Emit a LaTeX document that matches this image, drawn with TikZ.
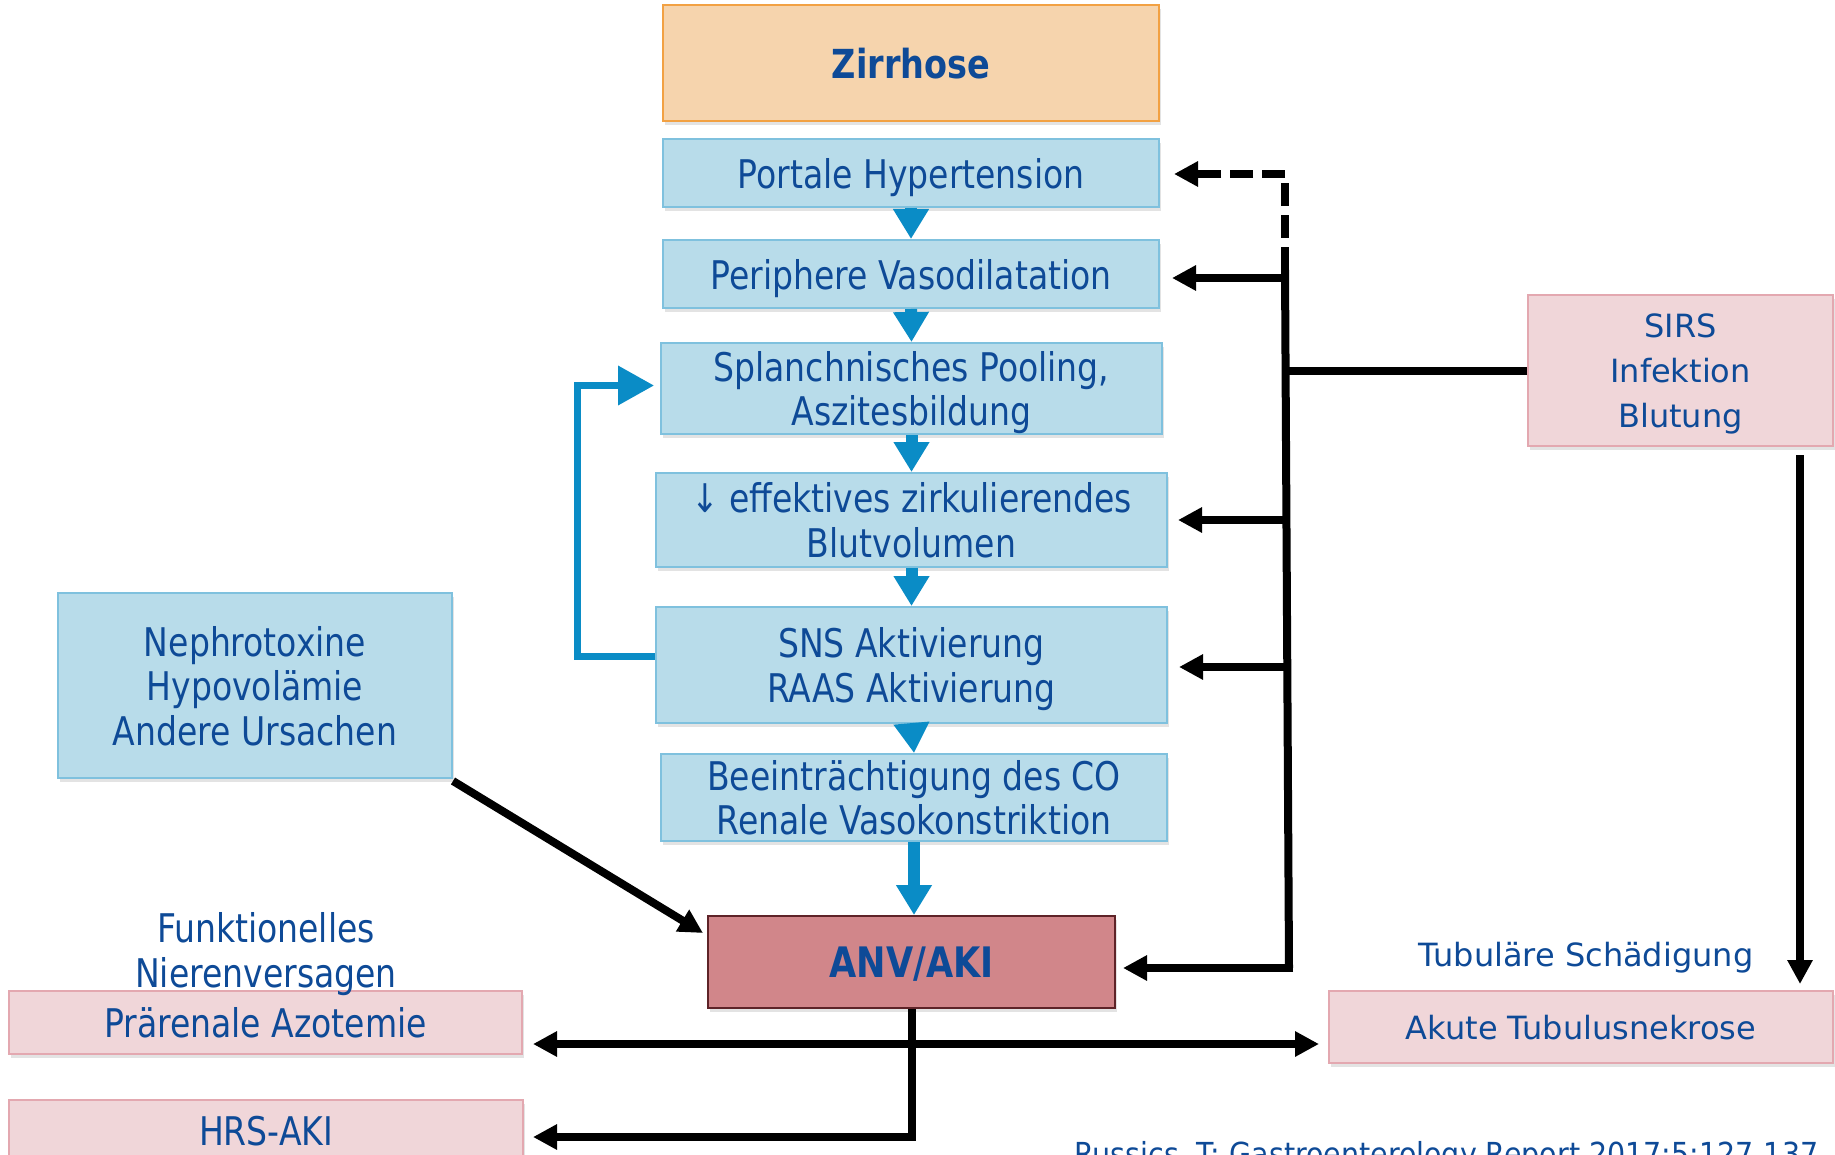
\documentclass[tikz,border=0pt]{standalone}
\usepackage{fontspec}
\setmainfont[FakeStretch=0.93]{DejaVu Sans Condensed}
\newfontfamily\reffont{DejaVu Sans Condensed}
\newfontfamily\verdfont{DejaVu Sans}
\usetikzlibrary{arrows.meta,shadows}

\definecolor{txtblue}{HTML}{0E4A97}
\definecolor{boxfill}{HTML}{B8DCEA}
\definecolor{boxline}{HTML}{7FC1DE}
\definecolor{pinkfill}{HTML}{F0D6D9}
\definecolor{pinkline}{HTML}{E3A8B0}
\definecolor{anvfill}{HTML}{D1868A}
\definecolor{anvline}{HTML}{5E2328}
\definecolor{zirfill}{HTML}{F6D4AD}
\definecolor{zirline}{HTML}{F2A143}
\definecolor{flowblue}{HTML}{0A8CC6}

\begin{document}
\begin{tikzpicture}[x=1pt,y=-1pt,
  boxshadow/.style={drop shadow={shadow xshift=2pt,shadow yshift=-4pt,opacity=0.22}},
  basebox/.style={rectangle,line width=2pt,inner sep=0pt,align=center,text=txtblue,
    font=\fontsize{39.5}{44.5}\selectfont,text depth=0pt,boxshadow},
  bluebox/.style={basebox,fill=boxfill,draw=boxline},
  pinkbox/.style={basebox,fill=pinkfill,draw=pinkline},
  verdbox/.style={pinkbox,font=\verdfont\fontsize{32}{45}\selectfont},
  labeltext/.style={text=txtblue,align=center,inner sep=0pt},
  flowarrow/.style={draw=flowblue,line width=12pt,
    -{Triangle[length=30pt,width=34pt]}},
  loopline/.style={draw=flowblue,line width=7pt,
    -{Triangle[length=36pt,width=38pt]}},
  blk/.style={draw=black,line width=8pt},
  blkarrow/.style={blk,-{Triangle[length=24pt,width=24pt]}},
  blkboth/.style={blk,{Triangle[length=24pt,width=24pt]}-{Triangle[length=24pt,width=24pt]}}
]
\useasboundingbox (0,0) rectangle (1835,1155);
\fill[white] (0,0) rectangle (1835,1155);

% main cascade
\node[basebox,fill=zirfill,draw=zirline,minimum width=496pt,minimum height=116pt,
  font=\bfseries\fontsize{40}{44}\selectfont] (zir) at (911,63) {Zirrhose};
\node[bluebox,minimum width=496pt,minimum height=68pt] (ph) at (911,173) {Portale Hypertension};
\node[bluebox,minimum width=496pt,minimum height=68pt] (pv) at (911,274) {Periphere Vasodilatation};
\node[bluebox,minimum width=501pt,minimum height=91pt] (sp) at (911.5,388.5) {Splanchnisches Pooling,\\Aszitesbildung};
\node[bluebox,minimum width=511pt,minimum height=94pt] (ev) at (911.5,520) {↓ effektives zirkulierendes\\Blutvolumen};
\node[bluebox,minimum width=511pt,minimum height=116pt] (sns) at (911.5,665) {SNS Aktivierung\\RAAS Aktivierung};
\node[bluebox,minimum width=506pt,minimum height=87pt] (bee) at (914,797.5) {Beeinträchtigung des CO\\Renale Vasokonstriktion};
\node[basebox,fill=anvfill,draw=anvline,minimum width=407pt,minimum height=92pt,
  font=\bfseries\fontsize{42}{44}\selectfont] (anv) at (911.5,962) {ANV/AKI};

% side causes
\node[bluebox,minimum width=394pt,minimum height=185pt] (nep) at (255,685.5) {Nephrotoxine\\Hypovolämie\\Andere Ursachen};
\node[verdbox,minimum width=305pt,minimum height=151pt] (sirs) at (1680.5,370.5) {SIRS\\Infektion\\Blutung};

% outcomes
\node[pinkbox,minimum width=513pt,minimum height=63pt] (pra) at (265.5,1022.5) {Prärenale Azotemie};
\node[pinkbox,minimum width=514pt,minimum height=62pt] (hrs) at (266,1131) {HRS-AKI};
\node[verdbox,minimum width=504pt,minimum height=72pt] (atn) at (1581,1027) {Akute Tubulusnekrose};

\node[labeltext,font=\fontsize{39.5}{44.5}\selectfont] (fnv) at (266,954) {Funktionelles\\Nierenversagen};
\node[labeltext,font=\verdfont\fontsize{32}{40}\selectfont] (tsch) at (1586,958) {Tubuläre Schädigung};

% blue cascade arrows
\draw[flowarrow] (ph.south) -- (pv.north);
\draw[flowarrow] (pv.south) -- (sp.north);
\draw[flowarrow] (sp.south) -- (ev.north);
\draw[flowarrow] (ev.south) -- (sns.north);
\draw[flowarrow] (sns.south) -- (bee.north);
\draw[flowarrow] (bee.south) -- (bee.south |- anv.north);

% feedback loop
\draw[loopline] ([yshift=9pt]sns.west) -- ++(-78,0) |- ([xshift=-6pt,yshift=3pt]sp.west);

% precipitating factors on the right
\coordinate (top) at (1285,174);
\coordinate (jpv) at (1285,270);
\coordinate (janv) at (1289,968);
\draw[blkarrow,dash pattern=on 23pt off 9pt] (jpv) -- (top) -- ([xshift=14pt]ph.east |- top);
\draw[blk] (jpv) -- (janv);
\draw[blk] (sirs.west) -- (sirs.west -| 1286,0);
\draw[blkarrow] (1286,278) -- ([xshift=12pt,yshift=-4pt]pv.east);
\draw[blkarrow] (ev.east -| 1287,0) -- ([xshift=10pt]ev.east);
\draw[blkarrow] (1288,667) -- ([xshift=11pt,yshift=-2pt]sns.east);
\draw[blkarrow] ([xshift=4pt]janv) -- ([xshift=7pt,yshift=-6pt]anv.east);
\draw[blkarrow] ([xshift=-34pt,yshift=-8pt]sirs.south east) -- ([xshift=-34pt,yshift=6pt]atn.north east);

% nephrotoxic path
\draw[blkarrow] ([yshift=-2pt]nep.south east) -- ([xshift=-4pt,yshift=-18pt]anv.north west);

% outcome branches
\draw[blkboth] ([xshift=10pt,yshift=-21.5pt]pra.east) -- ([xshift=-9pt,yshift=-17pt]atn.west);
\draw[blkarrow] (anv.south) |- ([xshift=9pt,yshift=-6pt]hrs.east);

% reference
\node[anchor=base west,text=txtblue,inner sep=0pt,font=\reffont\fontsize{31.7}{36}\selectfont] (ref)
  at (1074,1165) {Russics, T: Gastroenterology Report 2017;5:127-137};
\end{tikzpicture}
\end{document}
